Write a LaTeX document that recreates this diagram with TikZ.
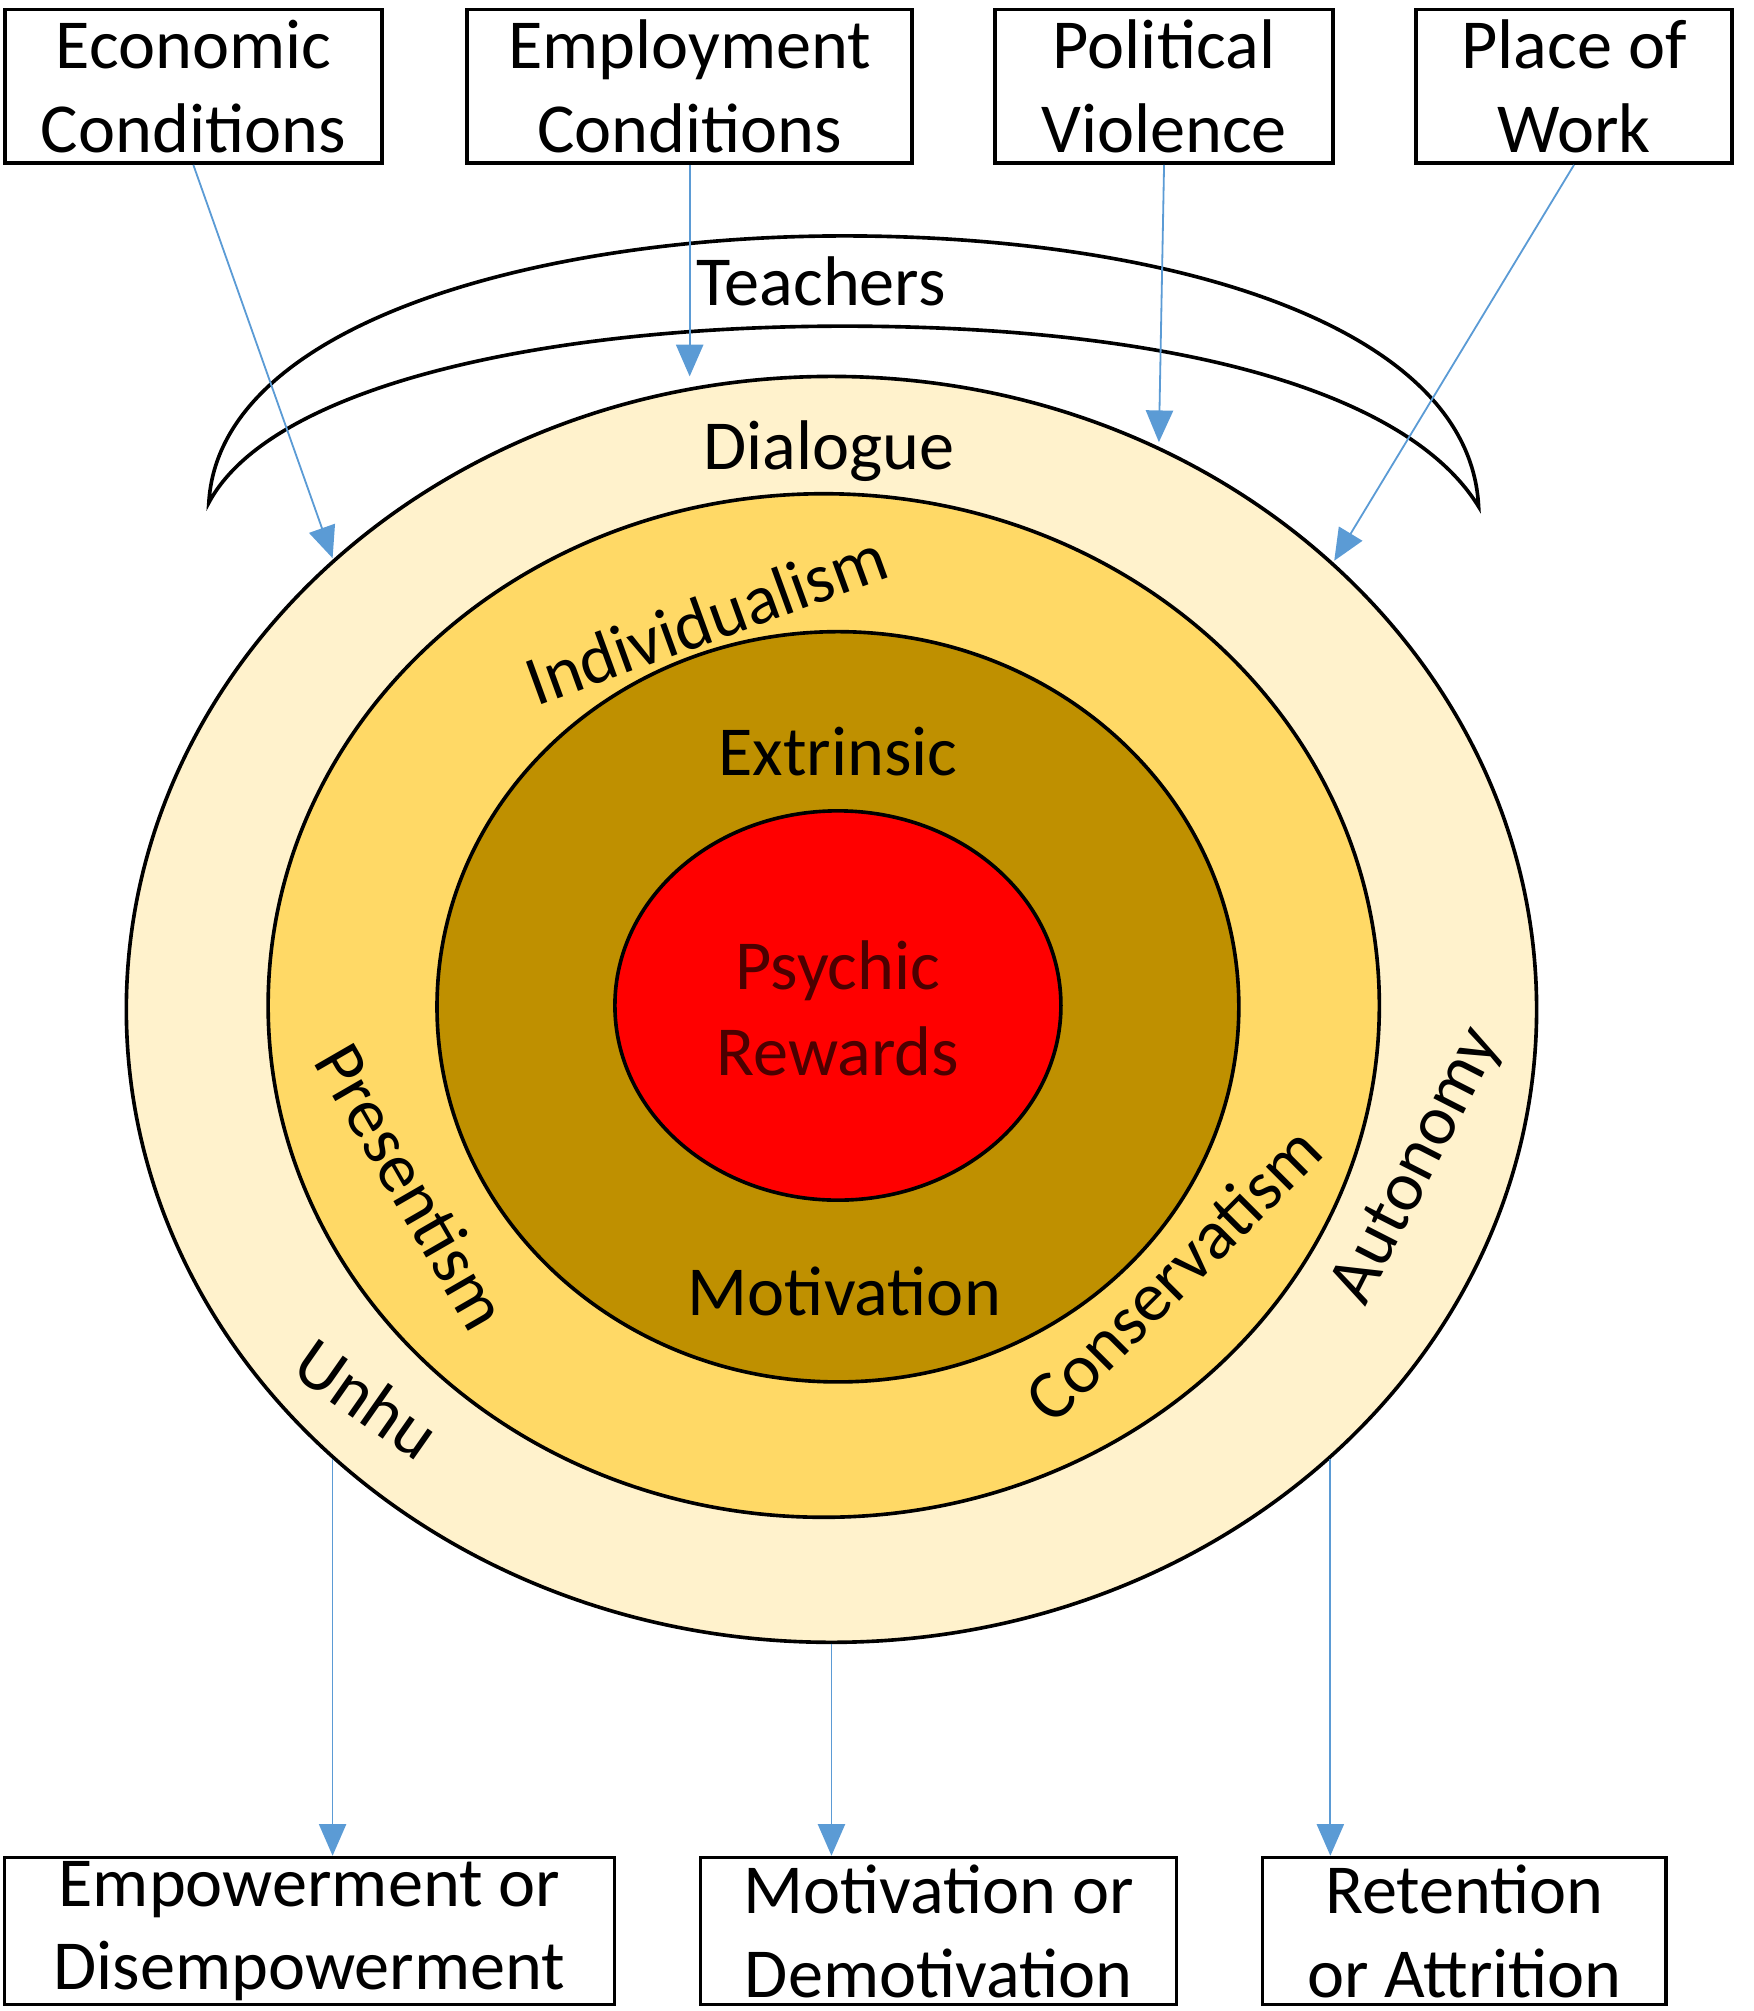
\documentclass[tikz,border=0pt]{standalone}
\usepackage{fontspec}
\setmainfont{Carlito}
\usetikzlibrary{arrows.meta}

\begin{document}
\begin{tikzpicture}[x=0.01cm,y=-0.01cm,
    box/.style={draw,thick,align=center,inner sep=0pt,font=\fontsize{15.5}{18.5}\selectfont},
    ring/.style={draw,thick},
    lbl/.style={font=\fontsize{15.5}{19}\selectfont},
    flow/.style={draw={rgb,255:red,91;green,155;blue,213},-{Triangle[length=7pt,width=6pt]}}]
    \useasboundingbox (0,0) rectangle (1360,1560);

    % top factors
    \node[box,minimum width=2.92cm,minimum height=1.19cm] (econ) at (150,67) {Economic\\Conditions};
    \node[box,minimum width=3.45cm,minimum height=1.19cm] (empl) at (535,67) {Employment\\Conditions};
    \node[box,minimum width=2.62cm,minimum height=1.19cm] (poli) at (903,67) {Political\\Violence};
    \node[box,minimum width=2.45cm,minimum height=1.19cm] (work) at (1221,67) {Place of\\Work};

    % teachers crescent
    \draw[thick] (162,390) .. controls (170,250) and (420,183) .. (655,183)
        .. controls (900,183) and (1140,250) .. (1147,393)
        .. controls (1090,300) and (900,253) .. (655,253)
        .. controls (420,253) and (210,300) .. cycle;
    \node[lbl] (teach) at (637,218) {Teachers};

    % rings
    \draw[ring,fill={rgb,255:red,255;green,242;blue,204}] (645,783) ellipse (547 and 491);
    \draw[ring,fill={rgb,255:red,255;green,217;blue,102}] (639,780) ellipse (431 and 397);
    \draw[ring,fill={rgb,255:red,191;green,144;blue,0}] (650,781) ellipse (311 and 291);
    \draw[ring,fill=red] (650,780) ellipse (173 and 151);

    \coordinate (econ in) at (258,433);
    \coordinate (empl in) at (535,292);
    \coordinate (poli in) at (899,343);
    \coordinate (work in) at (1035,435);
    \coordinate (left out) at (258,1132);
    \coordinate (mid out) at (645,1275);
    \coordinate (right out) at (1032,1132);

    % ring labels
    \node[lbl] (dial) at (643,350) {Dialogue};
    \node[lbl,rotate=20] (indi) at (548,480) {Individualism};
    \node[lbl] (extr) at (650,583) {Extrinsic};
    \node[lbl,align=center,text=black!70!red] (psyc) at (650,782) {Psychic\\Rewards};
    \node[lbl] (moti) at (655,1002) {Motivation};
    \node[lbl,rotate=-60] (pres) at (320,920) {Presentism};
    \node[lbl,rotate=45] (cons) at (910,988) {Conservatism};
    \node[lbl,rotate=63] (auto) at (1100,905) {Autonomy};
    \node[lbl,rotate=-35] (unhu) at (285,1085) {Unhu};

    % outcomes
    \node[box,minimum width=4.73cm,minimum height=1.14cm] (empo) at (240,1498) {Empowerment or\\Disempowerment};
    \node[box,minimum width=3.69cm,minimum height=1.14cm] (demo) at (728,1498) {Motivation or\\Demotivation};
    \node[box,minimum width=3.13cm,minimum height=1.14cm] (reten) at (1136,1498) {Retention\\or Attrition};

    \draw[flow] (econ.south) -- (econ in);
    \draw[flow] (empl.south) -- (empl in);
    \draw[flow] (poli.south) -- (poli in);
    \draw[flow] (work.south) -- (work in);
    \draw[flow] (left out) -- (left out |- empo.north);
    \draw[flow] (mid out) -- (mid out |- demo.north);
    \draw[flow] (right out) -- (right out |- reten.north);
\end{tikzpicture}
\end{document}
